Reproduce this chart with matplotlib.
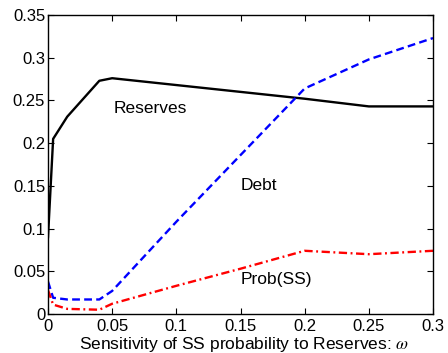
import numpy as np
import matplotlib.pyplot as plt

plt.rcParams['font.family'] = ['Liberation Sans', 'DejaVu Sans']
plt.rcParams['mathtext.fontset'] = 'stix'

# Sensibilidad omega y resultados del modelo
omega = [0.0, 0.004, 0.015, 0.04, 0.05, 0.1, 0.15, 0.2, 0.25, 0.3]
reserves = [0.090, 0.205, 0.231, 0.273, 0.276, 0.268, 0.260, 0.252, 0.243, 0.243]
debt = [0.038, 0.019, 0.017, 0.017, 0.027, 0.108, 0.186, 0.264, 0.298, 0.323]
prob_ss = [0.028, 0.011, 0.006, 0.005, 0.012, 0.033, 0.053, 0.074, 0.070, 0.074]

fig = plt.figure(figsize=(4.48, 3.53), dpi=100)
ax = fig.add_axes([48 / 448, 1 - 314 / 353, 385 / 448, 299 / 353])

ax.plot(omega, reserves, color='black', lw=1.7)
ax.plot(omega, debt, color='blue', lw=1.7, ls=(0, (3.3, 1.8)))
ax.plot(omega, prob_ss, color='red', lw=1.7, ls=(0, (3.5, 1.5, 0.8, 1.5)))

ax.text(0.051, 0.241, 'Reserves', fontsize=12.5, va='center')
ax.text(0.150, 0.150, 'Debt', fontsize=12.5, va='center')
ax.text(0.150, 0.040, 'Prob(SS)', fontsize=12.5, va='center')

ax.set_xlim(0, 0.3)
ax.set_ylim(0, 0.35)
ax.set_xticks([0, 0.05, 0.1, 0.15, 0.2, 0.25, 0.3])
ax.set_xticklabels(['0', '0.05', '0.1', '0.15', '0.2', '0.25', '0.3'])
ax.set_yticks(np.arange(0, 0.351, 0.05))
ax.set_yticklabels(['0', '0.05', '0.1', '0.15', '0.2', '0.25', '0.3', '0.35'])
ax.tick_params(direction='in', top=True, right=True, labelsize=12, length=4, pad=2)
ax.tick_params(axis='x', pad=3.5)
for s in ax.spines.values():
    s.set_linewidth(1)

# etiqueta del eje x colocada a mano, pegada a los números
fig.text(0.5 * (48 + 433) / 448 + 0.008, 1 - 348.5 / 353,
         'Sensitivity of SS probability to Reserves: $\\omega$',
         fontsize=12.5, ha='center', va='baseline')

fig.savefig('out.png', dpi=100)
